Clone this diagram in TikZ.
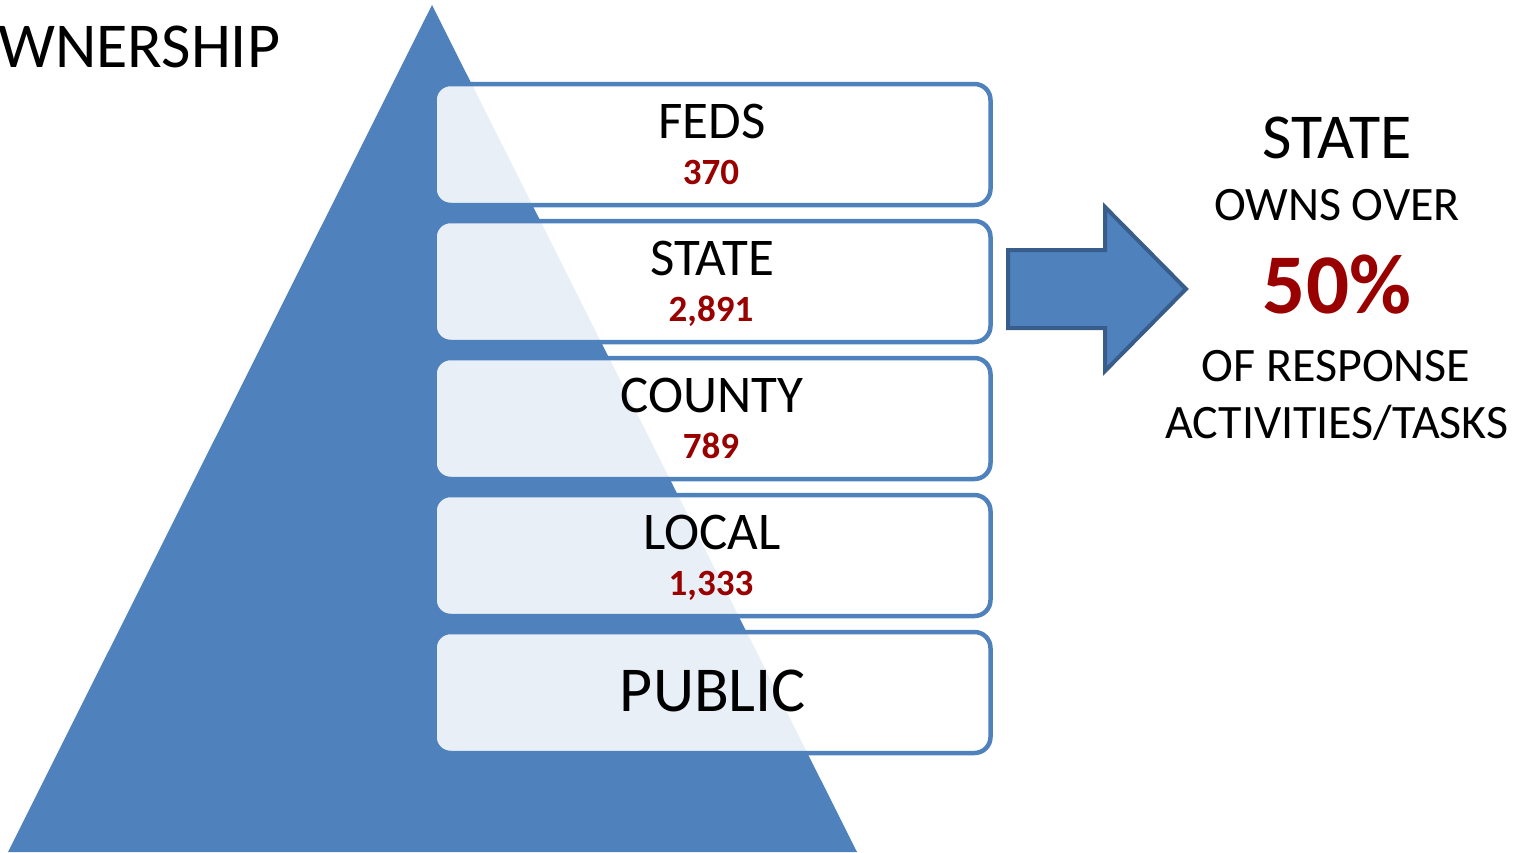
\documentclass[tikz,border=0pt]{standalone}
\usepackage{fontspec}
\setmainfont{Carlito}
\definecolor{pblue}{HTML}{4F81BD}
\definecolor{dblue}{HTML}{385D8A}
\definecolor{dred}{HTML}{990000}
\newcommand{\fsz}[1]{\fontsize{#1}{#1}\selectfont}
\tikzset{
  tier/.style={draw=pblue, line width=4.5pt, fill=white, fill opacity=0.88,
    rounded corners=16pt, minimum width=556pt, minimum height=121pt, inner sep=0pt},
  lab/.style={anchor=base, inner sep=0pt, font=\fsz{53}},
  num/.style={anchor=base, inner sep=0pt, text=dred, font=\fsz{37}\bfseries},
  side/.style={anchor=base, inner sep=0pt},
}
\begin{document}
\begin{tikzpicture}[x=1pt,y=-1pt]
\useasboundingbox (0,0) rectangle (1521,852);
\begin{scope}
\clip (0,0) rectangle (1521,852);
\fill[pblue] (432,5) -- (857,852) -- (8,852) -- cycle;
\end{scope}
% tiers
\node[tier] (bfeds) at (712.5,144.5) {};
\node[tier] (bstate) at (712.5,281.5) {};
\node[tier] (bcounty) at (712.5,418.5) {};
\node[tier] (blocal) at (712.5,555.5) {};
\node[tier] (bpublic) at (712.5,692.5) {};
\node[lab] (tfeds) at (712,138) {FEDS};
\node[num] (nfeds) at (711,184) {370};
\node[lab] (tstate) at (712,275) {STATE};
\node[num] (nstate) at (711,321) {2,891};
\node[lab] (tcounty) at (712,412) {COUNTY};
\node[num] (ncounty) at (711,458) {789};
\node[lab] (tlocal) at (712,549) {LOCAL};
\node[num] (nlocal) at (711,595) {1,333};
\node[lab, font=\fsz{64}] (tpublic) at (713,711) {PUBLIC};
% title
\node[anchor=base west, inner sep=0pt, font=\fsz{64}] (title) at (-2,67) {WNERSHIP};
% arrow
\draw[fill=pblue, draw=dblue, line width=4pt, line join=miter]
  (1008,250) -- (1105,250) -- (1105,207) -- (1186,289) -- (1105,371) -- (1105,328) -- (1008,328) -- cycle;
% right text
\node[side, font=\fsz{64}] (r1) at (1337,158) {STATE};
\node[side, font=\fsz{48}] (r2) at (1337,220) {OWNS OVER};
\node[side, font=\fsz{85}\bfseries, text=dred] (r3) at (1337,313) {50\%};
\node[side, font=\fsz{48}] (r4) at (1336,381) {OF RESPONSE};
\node[side, font=\fsz{48}] (r5) at (1337,438) {ACTIVITIES/TASKS};
\end{tikzpicture}
\end{document}
